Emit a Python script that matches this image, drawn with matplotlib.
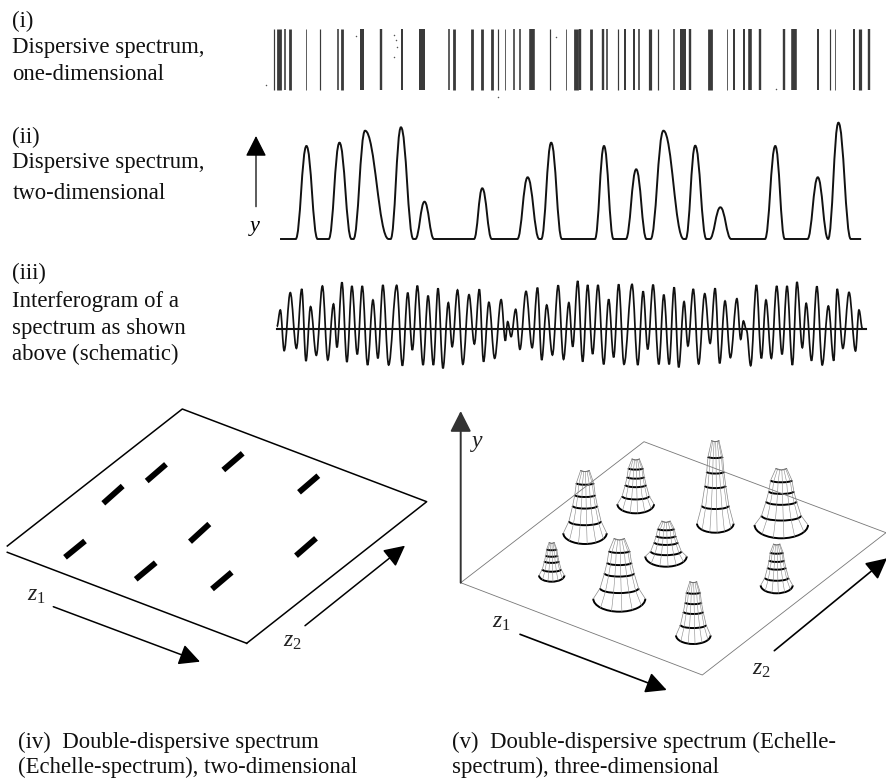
import numpy as np
import matplotlib
matplotlib.use("Agg")
import matplotlib.pyplot as plt
from matplotlib.path import Path
from matplotlib.patches import PathPatch, Arc

plt.rcParams['font.family'] = ['Liberation Serif', 'DejaVu Serif']
plt.rcParams['mathtext.fontset'] = 'custom'
plt.rcParams['mathtext.rm'] = 'Liberation Serif'
plt.rcParams['mathtext.it'] = 'Liberation Serif:italic'

# (i) line spectrum: position and width of every line, crop scale 2.5 in x
line_zx = [35, 47, 63, 76, 114, 151, 196, 206, 255, 303, 354, 404, 473, 484, 531, 555, 580, 596, 612, 636, 651, 679,
           726, 765, 790, 801, 827, 857, 868, 896, 912, 936, 948, 974, 996, 1034, 1058, 1075, 1124, 1168, 1186, 1210,
           1224, 1250, 1311, 1334, 1394, 1425, 1438, 1484, 1499, 1522]
line_zw = [3, 12, 4, 7, 2, 3, 4, 7, 10, 6, 5, 15, 4, 7, 7, 7, 7, 3, 2, 4, 4, 14,
           3, 2, 12, 6, 7, 6, 4, 3, 5, 5, 4, 8, 3, 4, 15, 6, 12, 2, 5, 5,
           9, 6, 6, 14, 5, 3, 2, 5, 8, 6]
speck_x = [356, 394.4, 396, 397, 394.4, 556, 498, 776, 266]
speck_y = [35.7, 35, 40, 46.7, 56.7, 36.7, 96.7, 89, 85]

# (ii) peak spectrum: turning points of the trace, crop scale 2.423 in x
spec_zx = [97, 135, 161, 188, 215, 241, 270, 275, 303, 360, 365, 390, 420, 425, 447, 470, 567, 587, 610, 672, 697,
           725, 730, 754, 780, 860, 882, 905, 935, 960, 985, 995, 1026, 1075, 1080, 1103, 1130, 1138, 1164, 1190,
           1272, 1297, 1320, 1375, 1400, 1425, 1450, 1480, 1505]
spec_y = [239, 239, 146, 239, 239, 142.7, 239, 239, 130.7, 239, 239, 127.3, 239, 239, 201.7, 239, 239, 188.3, 239, 239, 177.3,
          239, 239, 142.7, 239, 239, 146, 239, 239, 169.3, 239, 239, 130.7, 239, 239, 145.7, 239, 239, 207.3, 239,
          239, 146, 239, 239, 177.3, 239, 122.7, 239, 239]

# (iii) interferogram: extrema in the crop, x = 270 + zx/2.613, y = 270 + zy/3
ifg_zx = [18, 27, 37, 53, 69, 83, 94, 106, 121, 137, 151, 166, 175, 188, 201, 214, 228, 241, 255, 269, 282, 295,
          310, 331, 346, 360, 372, 385, 400, 413, 427, 439, 452, 466, 476, 490, 504, 520, 534, 547, 558, 572,
          587, 604, 615, 621, 630, 642, 653, 669, 685, 699, 710, 723, 738, 753, 767, 781, 791, 804, 817, 830,
          843, 857, 872, 885, 898, 911, 925, 946, 961, 975, 987, 1001, 1016, 1029, 1043, 1056, 1068, 1082, 1092,
          1106, 1120, 1136, 1150, 1163, 1175, 1189, 1203, 1220, 1230, 1237, 1245, 1256, 1271, 1284, 1296, 1310,
          1324, 1338, 1351, 1365, 1377, 1391, 1401, 1415, 1429, 1443, 1459, 1473, 1482, 1497, 1513, 1530, 1539, 1548]
ifg_zy = [170, 120, 242, 68, 235, 57, 273, 110, 256, 48, 270, 102, 232, 37, 276, 48, 253, 48, 285, 90, 265, 45,
          285, 46, 287, 68, 240, 47, 285, 77, 285, 55, 295, 98, 230, 60, 283, 74, 222, 58, 275, 97,
          265, 89, 212, 155, 200, 118, 238, 64, 233, 53, 270, 105, 255, 46, 268, 98, 230, 33, 275, 45,
          252, 45, 283, 88, 262, 43, 283, 43, 285, 64, 238, 44, 283, 74, 283, 52, 292, 95, 228,
          57, 282, 71, 220, 55, 280, 93, 263, 86, 208, 153, 180, 287, 45, 265, 90, 265,
          48, 253, 48, 285, 36, 233, 100, 272, 49, 285, 108, 272, 57, 235, 67, 243, 120, 176]

# (iv) flat echelle image
plane4_x = [7.3, 182.3, 426.7, 246.7, 7.3]
plane4_y = [546, 409, 501.7, 643.3, 552.3]
order_x0 = [65, 103.3, 146.7, 223.3, 299, 190, 296, 135.7, 212]
order_y0 = [557.3, 503.3, 481, 470, 492.3, 541.7, 555.7, 579.3, 589]
order_x1 = [85, 122.7, 166, 242.7, 318.3, 209.3, 316, 155.7, 231.7]
order_y1 = [541, 486, 464.3, 453.3, 475.7, 524, 538.3, 562.7, 572.3]

# (v) same orders as cones
plane5_x = [460.7, 644, 886, 702.3, 460.7]
plane5_y = [582.7, 441.7, 532.7, 675, 582.7]
cone_x = [585, 635.7, 715.3, 781.3, 666, 551.7, 619.3, 776.7, 693.3]
cone_top = [471.7, 460, 441.7, 470, 522.3, 543.3, 540, 545, 582.7]
cone_base = [544, 513.3, 532.7, 538.3, 566.7, 581.7, 611.7, 593.3, 644]
cone_hw = [21.7, 18.3, 18.3, 26.7, 20.7, 12.7, 26, 16, 17.3]
ring_level = [0.0, 0.26, 0.49, 0.65, 0.82, 1.0]
ring_width = [1.0, 0.74, 0.57, 0.47, 0.40, 0.2]
ring_sag = [0.5, 0.25, 0.22, 0.2, 0.18, 0.3]
rib_pos = [-0.72, -0.3, 0.1, 0.5, 0.85]

left_x = 12.5
left_lines = [("(i)", 27), ("Dispersive spectrum,", 53), ("one-dimensional", 80),
              ("(ii)", 143), ("Dispersive spectrum,", 168), ("two-dimensional", 199),
              ("(iii)", 279), ("Interferogram of a", 307), ("spectrum as shown", 334), ("above (schematic)", 360)]
caption_lines = [(18, 748, "(iv)  Double-dispersive spectrum"), (18, 772.5, "(Echelle-spectrum), two-dimensional"),
                 (452.5, 748, "(v)  Double-dispersive spectrum (Echelle-"), (452.5, 772.5, "spectrum), three-dimensional")]


def smooth(xs, ys, k=0.42):
    # horizontal tangents at each turning point, gives the round tops
    verts = [(xs[0], ys[0])]
    codes = [Path.MOVETO]
    for i in range(1, len(xs)):
        d = (xs[i] - xs[i - 1]) * k
        verts += [(xs[i - 1] + d, ys[i - 1]), (xs[i] - d, ys[i]), (xs[i], ys[i])]
        codes += [Path.CURVE4] * 3
    return Path(verts, codes)


def arrow(ax, x0, y0, x1, y1, lw=1.1, color='black', scale=17):
    ax.annotate('', xy=(x1, y1), xytext=(x0, y0),
                arrowprops=dict(arrowstyle='-|>,head_length=0.75,head_width=0.38', lw=lw, color=color,
                                mutation_scale=scale, shrinkA=0, shrinkB=0))


fig = plt.figure(figsize=(8.87, 7.78), dpi=100)
ax = fig.add_axes([0, 0, 1, 1])
ax.set_xlim(0, 887)
ax.set_ylim(778, 0)
ax.axis('off')

# (i)
line_x = 260 + np.array(line_zx) / 2.5
line_w = np.array(line_zw) / 2.5
ax.vlines(line_x, 29, 89.5, colors='#3a3a3a', linewidths=line_w * 0.72)
ax.scatter(speck_x, speck_y, s=1.2, color='#555555', linewidths=0)

# (ii)
spec_x = 240 + np.array(spec_zx) / 2.423
ax.add_patch(PathPatch(smooth(spec_x, spec_y), fill=False, lw=1.4, ec='#111111'))
arrow(ax, 256, 206.7, 256, 136, lw=0.9)
ax.text(255, 231, 'y', style='italic', fontsize=16, ha='center', va='baseline')

# (iii)
ifg_x = 270 + np.array(ifg_zx) / 2.613
ifg_y = 270 + np.array(ifg_zy) / 3
ax.add_patch(PathPatch(smooth(ifg_x, ifg_y, k=0.36), fill=False, lw=1.25, ec='#111111'))
ax.plot([276.9, 866], [328.7, 328.7], color='#111111', lw=1.5)

# (iv)
ax.plot(plane4_x[:4], plane4_y[:4], color='black', lw=1.1)
ax.plot(plane4_x[3:], plane4_y[3:], color='black', lw=1.1)
for x0, y0, x1, y1 in zip(order_x0, order_y0, order_x1, order_y1):
    ax.plot([x0, x1], [y0, y1], color='black', lw=4.2, solid_capstyle='butt')
arrow(ax, 53.3, 606.7, 200, 661.7)
arrow(ax, 305, 625.7, 405, 545.7)
ax.text(27, 601, '$z_1$', fontsize=17, color='#222222')
ax.text(283, 647, '$z_2$', fontsize=17, color='#222222')

# (v)
ax.plot(plane5_x, plane5_y, color='#777777', lw=0.6)
for cx, top, base, hw in zip(cone_x, cone_top, cone_base, cone_hw):
    h = base - top
    lx, rx, cy = [], [], []
    for lev, wid, sag in zip(ring_level, ring_width, ring_sag):
        w = hw * wid
        s = w * sag
        y = base - lev * h - s
        lx.append(cx - w)
        rx.append(cx + w)
        cy.append(y)
        lw = 1.4 if lev < 1 else 0.5
        ax.add_patch(Arc((cx, y), 2 * w, 2 * s, theta1=0, theta2=180, ec='black' if lev < 1 else '#666666', lw=lw))
    ax.plot(lx, cy, color='#888888', lw=0.5)
    ax.plot(rx, cy, color='#888888', lw=0.5)
    for u in rib_pos:
        wid = np.array(ring_width)
        sag = np.array(ring_sag)
        rib_x = cx + u * hw * wid
        rib_y = np.array(cy) + hw * wid * sag * np.sqrt(1 - u ** 2)
        ax.plot(rib_x, rib_y, color='#888888', lw=0.4)
    ax.plot([cx - hw * ring_width[-1], cx, cx + hw * ring_width[-1]], [cy[-1], top, cy[-1]], color='#666666', lw=0.5)

arrow(ax, 460.7, 582.7, 460.7, 411, lw=1.4, color='#333333')
arrow(ax, 520, 634.3, 666.7, 690, lw=1.2)
arrow(ax, 774.3, 650.7, 887, 558.3, lw=1.2)
ax.text(472, 447, 'y', style='italic', fontsize=17, color='#222222')
ax.text(492, 628, '$z_1$', fontsize=17, color='#222222')
ax.text(752, 675, '$z_2$', fontsize=17, color='#222222')

# text
for txt, y in left_lines:
    ax.text(left_x, y, txt, fontsize=16.4, va='baseline', color='#111111')
for x, y, txt in caption_lines:
    ax.text(x, y, txt, fontsize=16.4, va='baseline', color='#111111')

fig.savefig('out.png', dpi=100)
